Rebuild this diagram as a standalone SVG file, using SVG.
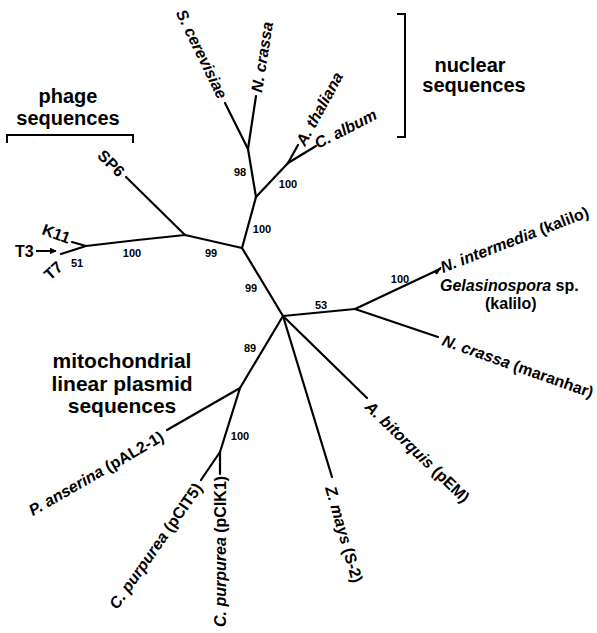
<svg xmlns="http://www.w3.org/2000/svg" width="597" height="633" viewBox="0 0 597 633">
<style>
  .br { stroke:#000; stroke-width:2.2; fill:none; stroke-linecap:round; stroke-linejoin:round; }
  .bk { stroke:#000; stroke-width:2; fill:none; }
  text { font-family:"Liberation Sans", Arial, Helvetica, sans-serif; font-weight:bold; fill:#000; }
  .lab { font-size:16px; }
  .it { font-style:italic; }
  .bs { font-size:11px; text-anchor:middle; }
  .hd { font-size:20px; text-anchor:middle; }
  .hdm { font-size:21px; text-anchor:middle; }
</style>
<defs>
  <marker id="arr" viewBox="0 0 10 10" refX="9" refY="5" markerWidth="7" markerHeight="7" markerUnits="userSpaceOnUse" orient="auto">
    <path d="M0,0 L10,5 L0,10 Z" fill="#000"/>
  </marker>
</defs>
<rect width="597" height="633" fill="#fff"/>

<g id="connectors">
  <line class="br" x1="242" y1="248" x2="283" y2="316"/>
  <line class="br" x1="242" y1="248" x2="256" y2="197"/>
  <line class="br" x1="256" y1="197" x2="248" y2="149"/>
  <line class="br" x1="248" y1="149" x2="225" y2="103"/>
  <line class="br" x1="248" y1="149" x2="256" y2="96"/>
  <line class="br" x1="256" y1="197" x2="288" y2="163"/>
  <line class="br" x1="288" y1="163" x2="298" y2="145"/>
  <line class="br" x1="288" y1="163" x2="316" y2="146"/>
  <line class="br" x1="242" y1="248" x2="185" y2="235"/>
  <line class="br" x1="185" y1="235" x2="126" y2="177"/>
  <path class="br" stroke-width="2.6" d="M185,235 Q135,240 86,246"/>
  <line class="br" x1="86" y1="246" x2="72" y2="242"/>
  <line class="br" x1="86" y1="246" x2="61" y2="254"/>
  <line class="br" x1="283" y1="316" x2="355" y2="309"/>
  <line class="br" x1="355" y1="309" x2="440" y2="269"/>
  <path d="M441,267 L434,272 L437,274 Z" fill="#000" stroke="#000" stroke-width="1"/>
  <line class="br" x1="355" y1="309" x2="438" y2="337"/>
  <line class="br" x1="283" y1="316" x2="240" y2="388"/>
  <line class="br" x1="240" y1="388" x2="167" y2="430"/>
  <line class="br" x1="240" y1="388" x2="220" y2="452"/>
  <line class="br" x1="220" y1="452" x2="201" y2="480"/>
  <line class="br" x1="220" y1="452" x2="220" y2="474"/>
  <line class="br" x1="283" y1="316" x2="367" y2="398"/>
  <line class="br" x1="283" y1="316" x2="332" y2="477"/>
  <line x1="36" y1="251" x2="56" y2="251" stroke="#000" stroke-width="2" marker-end="url(#arr)"/>
</g>

<g id="brackets">
  <path class="bk" d="M397,14 L405,14 L405,137 L397,137"/>
  <path class="bk" d="M7,143 L7,135 L133,135 L133,143"/>
</g>

<g id="headings">
  <text class="hd" x="470" y="72">nuclear</text>
  <text class="hd" x="474" y="92">sequences</text>
  <text class="hd" x="68" y="103">phage</text>
  <text class="hd" x="68" y="125">sequences</text>
  <text class="hdm" x="122" y="368">mitochondrial</text>
  <text class="hdm" x="122" y="391">linear plasmid</text>
  <text class="hdm" x="122" y="413">sequences</text>
</g>

<g id="n-scerevisiae"><text class="lab it" text-anchor="end" transform="translate(218,100) rotate(64)">S. cerevisiae</text></g>
<g id="n-ncrassa"><text class="lab it" transform="translate(262,93) rotate(-81)">N. crassa</text></g>
<g id="n-athaliana"><text class="lab it" transform="translate(305,147) rotate(-61.5)">A. thaliana</text></g>
<g id="n-calbum"><text class="lab it" transform="translate(318,149) rotate(-27)">C. album</text></g>
<g id="n-sp6"><text class="lab" text-anchor="end" transform="translate(118,178) rotate(45)">SP6</text></g>
<g id="n-k11"><text class="lab" transform="translate(41,234) rotate(20)">K11</text></g>
<g id="n-t3"><text class="lab" x="15" y="257">T3</text></g>
<g id="n-t7"><text class="lab" transform="translate(50,281) rotate(-42)">T7</text></g>
<g id="n-nintermedia"><text class="lab" transform="translate(443,273) rotate(-21)"><tspan class="it">N. intermedia</tspan> (kalilo)</text></g>
<g id="n-gelasinospora">
  <text class="lab" x="440" y="291"><tspan class="it">Gelasinospora</tspan> sp.</text>
  <text class="lab" x="485" y="309">(kalilo)</text>
</g>
<g id="n-ncrassa-maranhar"><text class="lab" transform="translate(441,345) rotate(19.5)"><tspan class="it">N. crassa</tspan> (maranhar)</text></g>
<g id="n-abitorquis"><text class="lab" transform="translate(364,408) rotate(44)"><tspan class="it">A. bitorquis</tspan> (pEM)</text></g>
<g id="n-zmays"><text class="lab" transform="translate(325,488) rotate(74)"><tspan class="it">Z. mays</tspan> (S-2)</text></g>
<g id="n-pcik1"><text class="lab" transform="translate(226,627) rotate(-90)"><tspan class="it">C. purpurea</tspan> (pCIK1)</text></g>
<g id="n-pcit5"><text class="lab" text-anchor="end" transform="translate(203,488) rotate(-55)"><tspan class="it">C. purpurea</tspan> (pCIT5)</text></g>
<g id="n-panserina"><text class="lab" text-anchor="end" transform="translate(165,440) rotate(-30)"><tspan class="it">P. anserina</tspan> (pAL2-1)</text></g>

<g id="bootstrap">
  <text class="bs" x="77" y="267">51</text>
  <text class="bs" x="132" y="257">100</text>
  <text class="bs" x="211" y="257">99</text>
  <text class="bs" x="240" y="176">98</text>
  <text class="bs" x="288" y="188">100</text>
  <text class="bs" x="262" y="233">100</text>
  <text class="bs" x="251" y="292">99</text>
  <text class="bs" x="321" y="309">53</text>
  <text class="bs" x="250" y="352">89</text>
  <text class="bs" x="400" y="283">100</text>
  <text class="bs" x="240" y="440">100</text>
</g>
</svg>
